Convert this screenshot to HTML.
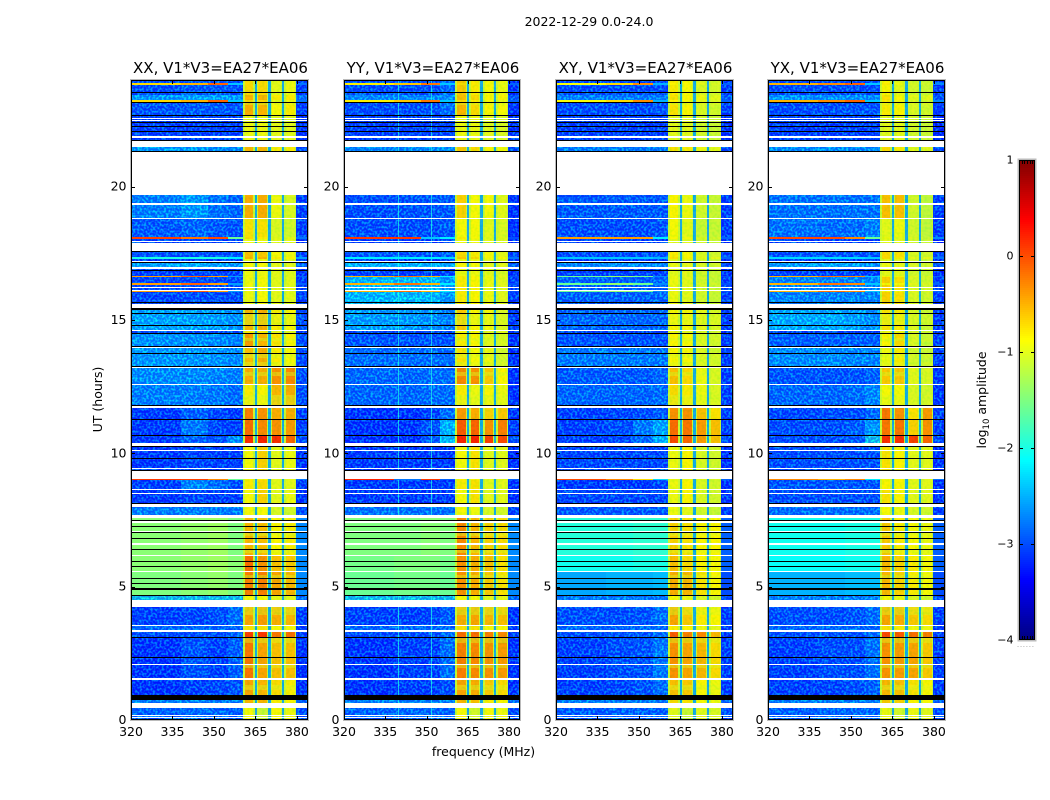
<!DOCTYPE html>
<html lang="en">
<head>
<meta charset="utf-8">
<title>2022-12-29 0.0-24.0 dynamic spectra</title>
<style>
html,body{margin:0;padding:0;background:#fff;width:1050px;height:800px;overflow:hidden}
svg{display:block}
text{font-family:"DejaVu Sans","Liberation Sans",sans-serif;fill:#000}
.tick{font-size:12.5px}
</style>
</head>
<body>
<svg id="chart" xmlns="http://www.w3.org/2000/svg" width="1050" height="800" viewBox="0 0 1050 800">
  <defs>
    <filter id="speckle" x="0" y="0" width="100%" height="100%" color-interpolation-filters="sRGB">
      <feTurbulence type="fractalNoise" baseFrequency="0.45" numOctaves="1" seed="7"/>
      <feColorMatrix type="matrix" values="0 0 0 0 0  4 0 0 0 -1.7  0 0 0 0 1  0 0 0 0 0.42"/>
    </filter>
    <filter id="passGrain" x="0" y="0" width="100%" height="100%" color-interpolation-filters="sRGB">
      <feTurbulence type="fractalNoise" baseFrequency="0.4" numOctaves="1" seed="3"/>
      <feColorMatrix type="matrix" values="3 0 0 0 -0.8  0 0 0 0 0.75  0 0 0 0 0  0 0 0 0 0.12"/>
    </filter>
  </defs>
  <rect width="1050" height="800" fill="#fff"/>
  <text x="589" y="26" text-anchor="middle" font-size="12.5">2022-12-29 0.0-24.0</text>
  <g id="panels"></g>
  <text x="483.5" y="756" text-anchor="middle" font-size="12.5">frequency (MHz)</text>
  <text transform="translate(102,399.5) rotate(-90)" text-anchor="middle" font-size="12.5">UT (hours)</text>
  <g id="colorbar"></g>
  <text transform="translate(986,400) rotate(-90)" text-anchor="middle" font-size="12.5">log<tspan font-size="8.5" dy="3">10</tspan><tspan dy="-3"> amplitude</tspan></text>
  <text x="1017" y="647" font-size="6.5" letter-spacing="0.9" style="fill:#777">......</text>
</svg>
<script>
// ---- axis data ----
const panelTitles = ['XX, V1*V3=EA27*EA06','YY, V1*V3=EA27*EA06','XY, V1*V3=EA27*EA06','YX, V1*V3=EA27*EA06'];
const xTicks = [320,335,350,365,380];
const yTicks = [0,5,10,15,20];
const cbarTicks = [1,0,-1,-2,-3,-4];

// ---- spectral columns (MHz) ----
const freqEdges = [320,338,348,355,360.4, 361.2,364.2,364.7,365.5, 366.1,369.1,369.6,370.5, 371.1,374.2,374.6,375.4, 376,379.2,379.8,384];
const colLevelIndex = [0,1,2,3, 4,4,4,-1, 5,5,5,-1, 6,6,6,-1, 7,7,7, 8];
const colRole = ['c','c','c','c', 'h','c','h','g', 'h','c','h','g', 'h','c','h','g', 'h','c','h', 'c'];
const gapLevel = -2.55;
const haloLevel = -1.15;
const dimBandLevel = -1.05;

// ---- passband stretches that read yellower than their scan (start hour, end hour) ----
const passDimStartHours = [23.06,14.81,14.21,13.58,13.28,12.9,11.81,7.46,6.9,6.26,5.33,3.94,2.89,1.95,1.13];
const passDimEndHours = [23.14,15.23,14.33,13.76,13.43,13.05,12.19,7.5,7.05,6.41,5.44,4.24,3.08,2.06,1.31];

// ---- time rows: lower edge in hours, and what was recorded in the row ----
const rowBottomHours = [
23.87,23.81,23.55,23.51,23.44,23.25,23.19,23.14,22.69,22.65,
22.58,22.54,22.5,22.46,22.43,22.39,22.28,22.24,22.09,22.05,
21.9,21.84,21.75,21.71,21.49,21.34,21.3,19.67,19.37,19.33,
18.83,18.79,18.11,18.04,17.96,17.92,17.89,17.59,17.55,17.36,
17.29,17.23,17.19,17.16,16.99,16.93,16.88,16.84,16.65,16.61,
16.37,16.31,16.24,16.2,16.13,16.09,16.05,15.68,15.64,15.6,
15.45,15.39,15.26,15.23,14.81,14.78,14.63,14.59,14.51,14.48,
14.03,13.99,13.95,13.76,13.73,13.28,13.24,13.2,12.6,12.56,
11.81,11.78,11.7,11.29,11.25,10.69,10.65,10.39,10.28,10.22,
10.13,10.09,9.83,9.79,9.45,9.41,9.38,9.34,9.24,9.21,
9.04,9.0,8.66,8.61,8.53,8.49,8.14,8.1,7.99,7.69,
7.59,7.5,7.46,7.37,7.28,7.24,7.09,7.05,7.01,6.83,
6.79,6.62,6.58,6.41,6.38,6.19,6.15,5.96,5.92,5.78,
5.74,5.59,5.55,5.33,5.29,5.14,5.1,4.95,4.89,4.69,
4.65,4.5,4.24,3.56,3.53,3.38,3.3,3.11,3.08,2.36,
2.33,2.1,2.06,1.58,1.5,0.94,0.75,0.64,0.45,0.19,
0.15,0.11,0.08,0];
const rowKinds = [
'A','R1','A','k','A','B','R1','k','A2','k',
'C','w','C','w','C','k','C','k','C','k',
'C','w','C','k','w','D','k','w','E','w',
'E','w','F','R','C','w','C','w','k','G',
'H','C','w','k','I','w','C','k','C','R3',
'J','R3','J','w','J','w','R3','J','k','J',
'w','k','K','k','K','k','K','w','L','k',
'M','k','w','N','k','N','k','w','O','w',
'P','k','w','Q','k','Q2','k','S','w','k',
'T','w','T','k','T','w','T','k','w','k',
'w','R2','U','w','T','w','T','k','w','V',
'w','W','k','w','W','k','W','w','k','W',
'k','W','w','W','k','W','w','Y','k','Y',
'k','Y','w','W2','k','W2','k','W2','k','W2',
'k','X','w','Z','w','Z1','w','Z2','k','Z3',
'k','Z3','w','Z3','w','Z4','k','Z5','w','Z6',
'w','Z6','w','Z6'];
const smoothKinds = ['W','Y','W2','R','R1','R2','R3','H'];

// ---- log10 amplitude per recording state: four off-band zones, four passband blocks, upper edge ----
const stateNames = ['A','B','A2','C','D','E','F','R','G','H','I','J','K','L','M','N','O','P','Q','Q2','S','T','U','V','W','Y','W2','X','Z','Z1','Z2','Z3','Z4','Z5','Z6','R1','R2','R3'];
const xxLevels = [
[-3,-2.9,-2.9,-3,-.7,-.7,-1,-.95,-3.1],[-2.4,-2.3,-2.35,-2.4,-.5,-.5,-.8,-.8,-2.7],[-2.95,-2.9,-2.9,-2.95,-.45,-.5,-.9,-.8,-3.1],[-3.1,-3.1,-3.1,-3.1,-.95,-.95,-1,-1,-3.2],
[-2.4,-2.4,-2.5,-2.5,-.5,-.5,-.8,-.8,-3],[-2.6,-2.4,-2.7,-2.8,-.45,-.45,-.95,-1.05,-3.1],[-2.9,-2.8,-2.9,-2.95,-.75,-.75,-1.05,-1.1,-3.1],[.05,-.2,0,-1.6,-.7,-.8,-1,-1,-2.8],
[-2.95,-2.95,-2.95,-2.95,-.55,-.6,-.9,-.95,-3.1],[-2,-2,-2,-2.2,-.5,-.5,-.8,-.85,-2.6],[-2.3,-2.2,-2.3,-2.4,-.9,-.9,-1,-1,-2.9],[-3.05,-3,-3,-3,-.95,-.9,-1,-1,-3.1],
[-2.3,-2.3,-2.35,-2.45,-.5,-.45,-.8,-.85,-3],[-3,-3,-3,-3,-.8,-.8,-1,-1,-3.1],[-2.45,-2.45,-2.5,-2.55,-.35,-.5,-.75,-.85,-3],[-2.4,-2.4,-2.45,-2.5,-.55,-.45,-.8,-.9,-3],
[-2.5,-2.5,-2.55,-2.6,-.45,-.45,-.3,-.25,-3],[-2.6,-2.6,-2.65,-2.75,-.8,-.85,-.5,-.45,-3],[-3.15,-2.85,-3.05,-3.15,-.2,-.3,-.45,-.45,-3.1],[-3.15,-2.65,-3.05,-3.1,-.1,-.25,-.3,-.35,-3.1],
[-3.15,-2.85,-2.95,-2.5,.25,.3,.25,-.05,-3],[-3.15,-3.05,-3.1,-3.1,-.9,-.65,-1,-.95,-3.2],[-3.1,-2.55,-2.75,-3,-.8,-.7,-1,-1,-3.1],[-2.6,-2.6,-2.6,-2.6,-.9,-.9,-1.05,-1.1,-3],
[-1.45,-1.4,-1.35,-1.5,-.5,-.55,-.85,-.8,-2.7],[-1.45,-1.4,-1.35,-1.45,-.1,-.3,-.55,-.6,-2.7],[-1.5,-1.45,-1.4,-1.5,-.2,-.2,-.4,-.5,-2.7],[-2,-2,-2,-2,-.9,-.9,-1,-1,-2.8],
[-3.1,-3.05,-3,-2.75,-.4,-.35,-.45,-.5,-3.1],[-2.8,-2.8,-2.8,-2.8,-.75,-.75,-.9,-.9,-3.1],[-3,-3,-3,-2.85,.15,.2,-.15,-.1,-3.1],[-3.2,-2.95,-3.1,-2.85,-.15,-.4,-.55,-.55,-3.2],
[-3.2,-3.1,-3.05,-2.95,-.4,-.5,-.7,-.8,-3.2],[-2.6,-2.6,-2.6,-2.6,-.5,-.5,-.8,-.85,-2.8],[-2.85,-2.75,-2.8,-2.85,-.9,-1.15,-.9,-.95,-3],[-.7,-.5,-.1,-2.4,-.7,-.7,-1,-.95,-2.8],[.1,.05,-.3,-1.6,-.85,-.85,-1,-1,-2.8],[-.4,-.1,-.4,-2.6,-.9,-.9,-1,-1,-2.9]];
const yyLevels = [
[-3,-3,-3,-2.75,-.6,-.8,-.9,-.95,-3.2],[-2.5,-2.5,-2.5,-2.5,-.55,-.7,-.85,-.85,-2.9],[-3,-3,-2.95,-2.75,-.5,-.7,-.85,-.9,-3.2],[-3.1,-3.1,-3.1,-3.05,-.95,-.95,-1,-1.05,-3.2],
[-2.5,-2.5,-2.5,-2.5,-.6,-.7,-.85,-.9,-3],[-3,-2.95,-2.95,-2.9,-.65,-.9,-.9,-1,-3.2],[-3,-3,-3,-2.9,-.9,-.9,-1,-1.05,-3.2],[.1,.1,-2.4,-2.2,-.8,-.9,-1,-1,-3],
[-2.95,-2.95,-2.95,-2.9,-.7,-.8,-.9,-1,-3.1],[-2.2,-2.2,-2.2,-2.3,-.6,-.7,-.9,-.9,-2.8],[-2.2,-2.15,-2.2,-2.3,-.85,-.9,-1,-1,-2.9],[-2.15,-2.1,-2.15,-2.4,-.8,-.85,-.95,-1,-3.1],
[-2.35,-2.4,-2.45,-2.6,-.6,-.85,-.9,-1.05,-3.1],[-3,-3,-3,-3,-.9,-.9,-1,-1,-3.2],[-2.95,-2.95,-2.95,-2.95,-.8,-.85,-1,-1.05,-3.2],[-2.75,-2.75,-2.75,-2.75,-.75,-.9,-.95,-1.1,-3.2],
[-2.8,-2.8,-2.75,-2.75,-.25,-.3,-.6,-.85,-3.2],[-2.8,-2.8,-2.75,-2.75,-.8,-.95,-.85,-.95,-3.2],[-3.2,-3.2,-3.1,-2.75,-.35,-.45,-.65,-.6,-3.2],[-3.2,-3.2,-2.95,-2.2,0,-.05,-.3,-.2,-3.1],
[-3.2,-3.2,-2.9,-2.1,.3,.3,.15,.1,-3],[-3.15,-3.15,-3.15,-3.15,-.9,-.75,-1,-1,-3.25],[-3.15,-3.15,-3.15,-3.15,-.8,-.75,-1,-1,-3.2],[-2.7,-2.7,-2.7,-2.7,-.9,-.95,-1.05,-1.1,-3.1],
[-1.5,-1.5,-1.45,-1.5,-.25,-.5,-.65,-.7,-2.7],[-1.55,-1.5,-1.5,-1.55,-.3,-.45,-.55,-.75,-2.7],[-1.6,-1.55,-1.55,-1.6,-.3,-.45,-.6,-.75,-2.7],[-2,-2,-2,-2,-.9,-.9,-1,-1,-2.8],
[-3.1,-3.1,-3.05,-2.9,-.45,-.4,-.5,-.55,-3.2],[-2.8,-2.8,-2.8,-2.8,-.75,-.75,-.9,-.9,-3.1],[-3,-3,-3,-2.75,-.1,-.1,-.2,-.25,-3.1],[-3.2,-3.1,-3.1,-2.75,-.2,-.25,-.3,-.35,-3.2],
[-3.2,-3.1,-3.1,-3,-.4,-.45,-.6,-.7,-3.2],[-2.6,-2.6,-2.6,-2.6,-.5,-.55,-.8,-.85,-2.8],[-2.85,-2.8,-2.8,-2.8,-.9,-1.1,-.9,-.95,-3],[-.8,-.6,-.2,-2.4,-.7,-.8,-.9,-1,-2.9],[.2,-2.8,.1,-2.9,-.85,-.85,-1,-1,-2.9],[-.5,-.2,-.5,-2.2,-.8,-.85,-.95,-1,-3]];
const xyLevels = [
[-3,-3,-3,-3,-.8,-.9,-1.05,-1.1,-3.1],[-2.6,-2.6,-2.6,-2.6,-.75,-.85,-.95,-1,-2.9],[-3,-3,-3,-2.95,-.75,-.85,-1.05,-1.1,-3.1],[-3.1,-3.1,-3.1,-3.1,-1,-1,-1.1,-1.15,-3.2],
[-2.6,-2.6,-2.6,-2.6,-.75,-.8,-.95,-1,-3],[-2.9,-2.9,-2.9,-2.9,-.85,-.95,-1.1,-1.15,-3.1],[-3,-3,-3,-2.95,-.9,-1,-1.15,-1.15,-3.1],[-.4,-.4,-.4,-2.2,-.9,-.95,-1.05,-1.1,-2.9],
[-3,-3,-3,-2.95,-.8,-.9,-1.05,-1.1,-3.1],[-2.4,-2.4,-2.4,-2.5,-.75,-.85,-1,-1,-2.9],[-2.5,-2.45,-2.5,-2.6,-.95,-1,-1.05,-1.1,-3],[-2.85,-2.85,-2.85,-2.8,-.95,-1,-1.1,-1.15,-3.1],
[-2.8,-2.8,-2.8,-2.8,-.85,-.9,-1,-1.05,-3.1],[-3.05,-3.05,-3.05,-3.05,-.95,-1,-1.05,-1.1,-3.2],[-2.95,-2.95,-2.95,-2.95,-.85,-.9,-1.05,-1.1,-3.1],[-2.65,-2.65,-2.65,-2.65,-.85,-.9,-1.05,-1.1,-3.1],
[-2.9,-2.9,-2.9,-2.8,-.55,-.7,-.95,-1.05,-3.1],[-2.8,-2.8,-2.8,-2.75,-.7,-.8,-.95,-1.05,-3.1],[-3.1,-3.05,-3,-2.9,-.3,-.3,-.55,-.75,-3.1],[-3.1,-3,-2.65,-2.3,-.1,-.15,-.35,-.55,-3.1],
[-3.1,-3.05,-2.8,-2.2,.1,-.05,-.35,-.55,-3],[-3.05,-3.05,-3.05,-3.05,-.95,-.85,-1.05,-1.1,-3.2],[-3.15,-3.15,-3.15,-3.05,-.95,-.85,-1.05,-1.1,-3.2],[-2.9,-2.9,-2.9,-2.9,-.95,-1,-1.1,-1.15,-3.1],
[-1.95,-1.95,-1.9,-1.9,-.65,-.75,-.85,-.85,-2.9],[-2.05,-2.05,-2,-2,-.55,-.7,-.85,-.9,-2.9],[-2.55,-2.5,-2.5,-2.45,-.45,-.5,-.75,-.85,-3],[-2.65,-2.65,-2.65,-2.65,-.9,-.95,-1.05,-1.1,-3],
[-3,-3,-2.95,-2.75,-.4,-.6,-.8,-.85,-3.1],[-2.8,-2.8,-2.8,-2.8,-.8,-.85,-.95,-1,-3.1],[-3,-2.95,-2.95,-2.75,0,-.2,-.25,-.5,-3.1],[-3.1,-3,-2.95,-2.65,-.3,-.4,-.5,-.7,-3.1],
[-3.1,-3.05,-2.95,-2.75,-.55,-.6,-.85,-.95,-3.1],[-2.6,-2.6,-2.6,-2.6,-.7,-.75,-.9,-.95,-2.8],[-2.9,-2.85,-2.85,-2.85,-1,-1.15,-1,-1.05,-3],[-.9,-.7,-.3,-2.5,-.85,-.9,-1,-1.05,-2.9],[.0,-.3,-.7,-2.3,-.95,-.95,-1,-1.05,-2.9],[-1.6,-1.4,-1.6,-2.7,-.95,-1,-1.05,-1.1,-3]];
const yxLevels = [
[-3,-3,-3,-3,-.85,-1,-1.1,-1.15,-3.1],[-2.45,-2.45,-2.45,-2.5,-.75,-.9,-1,-1,-2.9],[-3,-3,-2.95,-2.95,-.8,-.85,-1.05,-1.1,-3.1],[-3.1,-3.1,-3.1,-3.1,-1,-1,-1.1,-1.15,-3.25],
[-2.5,-2.5,-2.5,-2.5,-.7,-.8,-1,-1,-3],[-2.7,-2.7,-2.7,-2.7,-.55,-.55,-1.1,-1.2,-3.1],[-2.7,-2.75,-2.75,-2.6,-1,-.95,-1.1,-1.2,-3.1],[.0,.0,-.3,-1.6,-.95,-1,-1.05,-1.15,-2.7],
[-2.95,-2.95,-2.95,-2.95,-.7,-.75,-1.05,-1.1,-3.1],[-2.3,-2.3,-2.3,-2.4,-.7,-.8,-1,-1,-2.8],[-2.35,-2.3,-2.35,-2.5,-.95,-1,-1.05,-1.1,-2.9],[-2.55,-2.55,-2.55,-2.55,-.65,-.75,-1.05,-1.1,-3.1],
[-2.25,-2.25,-2.35,-2.5,-.75,-.8,-1.05,-1.15,-3.1],[-3.05,-3.05,-3.05,-3.05,-.95,-.95,-1.05,-1.1,-3.2],[-2.85,-2.85,-2.85,-2.85,-.85,-.7,-1.05,-1.15,-3.1],[-2.5,-2.5,-2.55,-2.55,-.95,-.8,-1.1,-1.15,-3.1],
[-2.95,-2.95,-2.95,-2.85,-.6,-.6,-1,-1.05,-3.15],[-2.8,-2.8,-2.75,-2.55,-.9,-.9,-1.05,-1.1,-3.15],[-3.05,-3,-3,-2.8,-.15,-.3,-.75,-.35,-3.1],[-3,-3,-2.9,-2.4,-.15,-.15,-.65,-.3,-3.1],
[-3,-3,-2.9,-2,.25,.25,.15,-.05,-3],[-3,-3,-3,-3,-.75,-.85,-1,-1,-3.2],[-2.95,-2.95,-2.95,-2.95,-.85,-.85,-1,-1,-3.2],[-2.75,-2.75,-2.75,-2.75,-.9,-.95,-1.05,-1.1,-3.1],
[-2.05,-2.05,-2,-2,-.6,-.8,-.9,-.95,-2.9],[-2.1,-2.1,-2.05,-2.05,-.5,-.65,-.8,-.9,-2.9],[-2.5,-2.5,-2.45,-2.45,-.5,-.65,-.8,-.9,-3],[-2.6,-2.6,-2.6,-2.6,-.9,-.95,-1.05,-1.1,-3],
[-3,-3,-2.95,-2.75,-.4,-.45,-.6,-.7,-3.1],[-2.8,-2.8,-2.8,-2.8,-.75,-.8,-.95,-.95,-3.1],[-3,-2.95,-2.95,-2.75,.1,0,-.1,-.2,-3.1],[-3.1,-3,-3,-2.7,-.3,-.35,-.4,-.6,-3.1],
[-3.1,-3.05,-3,-2.85,-.5,-.55,-.75,-.85,-3.1],[-2.6,-2.6,-2.6,-2.6,-.6,-.65,-.85,-.9,-2.8],[-2.85,-2.8,-2.8,-2.8,-.95,-1.1,-.95,-1,-3],[-.5,-.3,-.1,-2.4,-.8,-.95,-1.05,-1.1,-2.7],[-.3,-.5,-.3,-2.2,-.9,-.9,-1,-1,-2.8],[-.5,-.2,-.3,-2.4,-.85,-.9,-1,-1.05,-2.9]];
const panelLevels = [xxLevels, yyLevels, xyLevels, yxLevels];

// ---- narrow interference lines per panel (MHz) ----
const xxRfiFreqs = [];
const yyRfiFreqs = [339.8,351.8];
const xyRfiFreqs = [];
const yxRfiFreqs = [];
const panelRfi = [xxRfiFreqs, yyRfiFreqs, xyRfiFreqs, yxRfiFreqs];
const rfiLevel = -2;

// ---- layout ----
const SVGNS = 'http://www.w3.org/2000/svg';
const panelLeft = [131,344,556,768];
const panelWidths = [177,176,177,177];
const plotTop = 80, plotBottom = 720;
const freqMin = 320, freqMax = 384, hourMax = 24;
const cbarLeft = 1019, cbarRight = 1035, cbarTop = 160, cbarBottom = 640, cbarMin = -4, cbarMax = 1;

function xPos(p, f){ return panelLeft[p] + (f - freqMin) / (freqMax - freqMin) * panelWidths[p]; }
function yPos(h){ return plotBottom - h / hourMax * (plotBottom - plotTop); }
function jet(v){
  const t = Math.max(0, Math.min(1, (v - cbarMin) / (cbarMax - cbarMin)));
  const ramp = function(x){ return Math.round(255 * Math.max(0, Math.min(1, 1.5 - Math.abs(4 * t - x)))); };
  return 'rgb(' + ramp(3) + ',' + ramp(2) + ',' + ramp(1) + ')';
}
function svgEl(tag){ return document.createElementNS(SVGNS, tag); }
function setRect(el, x, y, w, h, fill){
  el.setAttribute('x', x); el.setAttribute('y', y);
  el.setAttribute('width', w); el.setAttribute('height', h);
  el.setAttribute('fill', fill);
  el.setAttribute('shape-rendering', 'crispEdges');
}
function cellLevel(levels, c){
  if (colRole[c] === 'g') return gapLevel;
  if (colRole[c] === 'h') return haloLevel;
  return levels[colLevelIndex[c]];
}

function drawRowCells(g, p, r, yTop, yBot){
  const levels = panelLevels[p][stateNames.indexOf(rowKinds[r])];
  for (let c = 0; c < freqEdges.length - 1; c++) {
    const x0 = Math.round(xPos(p, freqEdges[c]));
    const x1 = Math.round(xPos(p, freqEdges[c + 1]));
    const cell = svgEl('rect');
    
    
    setRect(cell, x0, yTop, Math.max(1, x1 - x0), yBot - yTop, jet(cellLevel(levels, c)));
    g.appendChild(cell);
  }
}
function rowSpan(r){
  const upper = r === 0 ? hourMax : rowBottomHours[r - 1];
  const yTop = Math.round(yPos(upper));
  return [yTop, Math.max(Math.round(yPos(rowBottomHours[r])), yTop + 1)];
}

const panelsRoot = document.getElementById('panels');
panelTitles.forEach(function(title, p){
  const g = svgEl('g');
  
  
  panelsRoot.appendChild(g);

  const left = panelLeft[p], width = panelWidths[p], right = left + width;

  // speckled rows first
  rowKinds.forEach(function(kind, r){
    const span = rowSpan(r);
    if (kind !== 'w' && kind !== 'k' && smoothKinds.indexOf(kind) < 0) drawRowCells(g, p, r, span[0], span[1]);
  });

  // pixel-scale grain over the off-band zones
  const grainA = svgEl('rect');
  
  
  grainA.setAttribute('x', left);
  grainA.setAttribute('y', plotTop);
  grainA.setAttribute('width', Math.round(xPos(p, 360.4)) - left);
  grainA.setAttribute('height', plotBottom - plotTop);
  grainA.setAttribute('filter', 'url(#speckle)');
  g.appendChild(grainA);
  const grainB = svgEl('rect');
  
  
  grainB.setAttribute('x', Math.round(xPos(p, 380)));
  grainB.setAttribute('y', plotTop);
  grainB.setAttribute('width', right - Math.round(xPos(p, 380)));
  grainB.setAttribute('height', plotBottom - plotTop);
  grainB.setAttribute('filter', 'url(#speckle)');
  g.appendChild(grainB);

  panelRfi[p].forEach(function(f){
    const line = svgEl('rect');
    
    
    setRect(line, Math.round(xPos(p, f)), plotTop, 1, plotBottom - plotTop, jet(rfiLevel));
    line.setAttribute('opacity', '0.7');
    g.appendChild(line);
  });

  // smooth rows
  rowKinds.forEach(function(kind, r){
    const span = rowSpan(r);
    if (smoothKinds.indexOf(kind) >= 0) drawRowCells(g, p, r, span[0], span[1]);
  });

  // yellower passband stretches
  passDimStartHours.forEach(function(startHour, i){
    const yTop = Math.round(yPos(passDimEndHours[i]));
    const yBot = Math.round(yPos(startHour));
    for (let c = 0; c < colRole.length; c++) {
      if (colRole[c] !== 'c' || colLevelIndex[c] < 4 || colLevelIndex[c] > 7) continue;
      const x0 = Math.round(xPos(p, freqEdges[c]));
      const x1 = Math.round(xPos(p, freqEdges[c + 1]));
      const dim = svgEl('rect');
      
      
      setRect(dim, x0, yTop, x1 - x0, Math.max(1, yBot - yTop), jet(dimBandLevel));
      dim.setAttribute('opacity', '0.45');
      g.appendChild(dim);
    }
  });

  // passband grain
  const passX = Math.round(xPos(p, 360.4));
  const grainC = svgEl('rect');
  
  
  grainC.setAttribute('x', passX);
  grainC.setAttribute('y', plotTop);
  grainC.setAttribute('width', Math.round(xPos(p, 379.8)) - passX);
  grainC.setAttribute('height', plotBottom - plotTop);
  grainC.setAttribute('filter', 'url(#passGrain)');
  g.appendChild(grainC);

  // missing data and dropouts on top
  rowKinds.forEach(function(kind, r){
    if (kind !== 'w' && kind !== 'k') return;
    const span = rowSpan(r);
    const band = svgEl('rect');
    
    
    setRect(band, left, span[0], width, span[1] - span[0], kind === 'w' ? '#fff' : '#000');
    g.appendChild(band);
  });

  // frame
  const halo = svgEl('rect');
  
  
  halo.setAttribute('x', left); halo.setAttribute('y', plotTop);
  halo.setAttribute('width', width); halo.setAttribute('height', plotBottom - plotTop);
  halo.setAttribute('fill', 'none'); halo.setAttribute('stroke', '#bbb'); halo.setAttribute('stroke-width', '2');
  g.appendChild(halo);
  const frame = svgEl('rect');
  
  
  frame.setAttribute('x', left + 0.5); frame.setAttribute('y', plotTop + 0.5);
  frame.setAttribute('width', width - 1); frame.setAttribute('height', plotBottom - plotTop - 1);
  frame.setAttribute('fill', 'none'); frame.setAttribute('stroke', '#000'); frame.setAttribute('stroke-width', '1');
  g.appendChild(frame);

  // x ticks
  xTicks.forEach(function(f){
    const x = Math.round(xPos(p, f)) + 0.5;
    [[plotBottom, plotBottom - 4], [plotTop, plotTop + 4]].forEach(function(seg){
      const t = svgEl('line');
      
      
      t.setAttribute('x1', x); t.setAttribute('x2', x);
      t.setAttribute('y1', seg[0]); t.setAttribute('y2', seg[1]);
      t.setAttribute('stroke', '#000');
      g.appendChild(t);
    });
    const lab = svgEl('text');
    
    
    lab.setAttribute('class', 'tick');
    lab.setAttribute('x', xPos(p, f));
    lab.setAttribute('y', 736);
    lab.setAttribute('text-anchor', 'middle');
    lab.textContent = f;
    g.appendChild(lab);
  });

  // y ticks
  yTicks.forEach(function(h){
    const y = Math.round(yPos(h)) + (h === 0 ? -0.5 : 0.5);
    [[left, left + 4], [right, right - 4]].forEach(function(seg){
      const t = svgEl('line');
      
      
      t.setAttribute('x1', seg[0]); t.setAttribute('x2', seg[1]);
      t.setAttribute('y1', y); t.setAttribute('y2', y);
      t.setAttribute('stroke', '#000');
      g.appendChild(t);
    });
    const lab = svgEl('text');
    
    
    lab.setAttribute('class', 'tick');
    lab.setAttribute('x', left - 4.5);
    lab.setAttribute('y', yPos(h) + 4);
    lab.setAttribute('text-anchor', 'end');
    lab.textContent = h;
    g.appendChild(lab);
  });

  const ttl = svgEl('text');
  
  
  ttl.setAttribute('x', left + width / 2 + 1);
  ttl.setAttribute('y', 73);
  ttl.setAttribute('text-anchor', 'middle');
  ttl.setAttribute('font-size', '15');
  ttl.textContent = title;
  g.appendChild(ttl);
});

// ---- colorbar ----
const cbarRoot = document.getElementById('colorbar');
const cbarHeight = cbarBottom - cbarTop;
function cbarY(v){ return cbarBottom - (v - cbarMin) / (cbarMax - cbarMin) * cbarHeight; }
for (let i = 0; i < cbarHeight; i += 2) {
  const s = svgEl('rect');
  
  
  setRect(s, cbarLeft, cbarTop + i, cbarRight - cbarLeft, 2, jet(cbarMax - (i + 1) / cbarHeight * (cbarMax - cbarMin)));
  cbarRoot.appendChild(s);
}
const cbHalo = svgEl('rect');


cbHalo.setAttribute('x', cbarLeft - 0.5); cbHalo.setAttribute('y', cbarTop - 0.5);
cbHalo.setAttribute('width', cbarRight - cbarLeft + 1); cbHalo.setAttribute('height', cbarHeight + 1);
cbHalo.setAttribute('fill', 'none'); cbHalo.setAttribute('stroke', '#bbb'); cbHalo.setAttribute('stroke-width', '2');
cbarRoot.appendChild(cbHalo);
const cbFrame = svgEl('rect');


cbFrame.setAttribute('x', cbarLeft + 0.5); cbFrame.setAttribute('y', cbarTop + 0.5);
cbFrame.setAttribute('width', cbarRight - cbarLeft - 1); cbFrame.setAttribute('height', cbarHeight - 1);
cbFrame.setAttribute('fill', 'none'); cbFrame.setAttribute('stroke', '#000');
cbarRoot.appendChild(cbFrame);
cbarTicks.forEach(function(v){
  const y = Math.min(cbarBottom - 0.5, Math.round(cbarY(v)) + 0.5);
  [[cbarLeft, cbarLeft + 4], [cbarRight, cbarRight - 4]].forEach(function(seg){
    const t = svgEl('line');
    
    
    t.setAttribute('x1', seg[0]); t.setAttribute('x2', seg[1]);
    t.setAttribute('y1', y); t.setAttribute('y2', y);
    t.setAttribute('stroke', '#000');
    cbarRoot.appendChild(t);
  });
  const lab = svgEl('text');
  
  
  lab.setAttribute('x', cbarLeft - 5.5);
  lab.setAttribute('y', cbarY(v) + 3.5);
  lab.setAttribute('text-anchor', 'end');
  lab.setAttribute('font-size', '11');
  lab.textContent = v < 0 ? '\u2212' + Math.abs(v) : String(v);
  cbarRoot.appendChild(lab);
});
for (let k = 1; k < 6; k++) {
  const x = cbarLeft + k * (cbarRight - cbarLeft) / 6;
  [[cbarTop, cbarTop + 4], [cbarBottom, cbarBottom - 4]].forEach(function(seg){
    const t = svgEl('line');
    
    
    t.setAttribute('x1', Math.round(x) + 0.5); t.setAttribute('x2', Math.round(x) + 0.5);
    t.setAttribute('y1', seg[0]); t.setAttribute('y2', seg[1]);
    t.setAttribute('stroke', '#000');
    cbarRoot.appendChild(t);
  });
}
</script>
</body>
</html>
